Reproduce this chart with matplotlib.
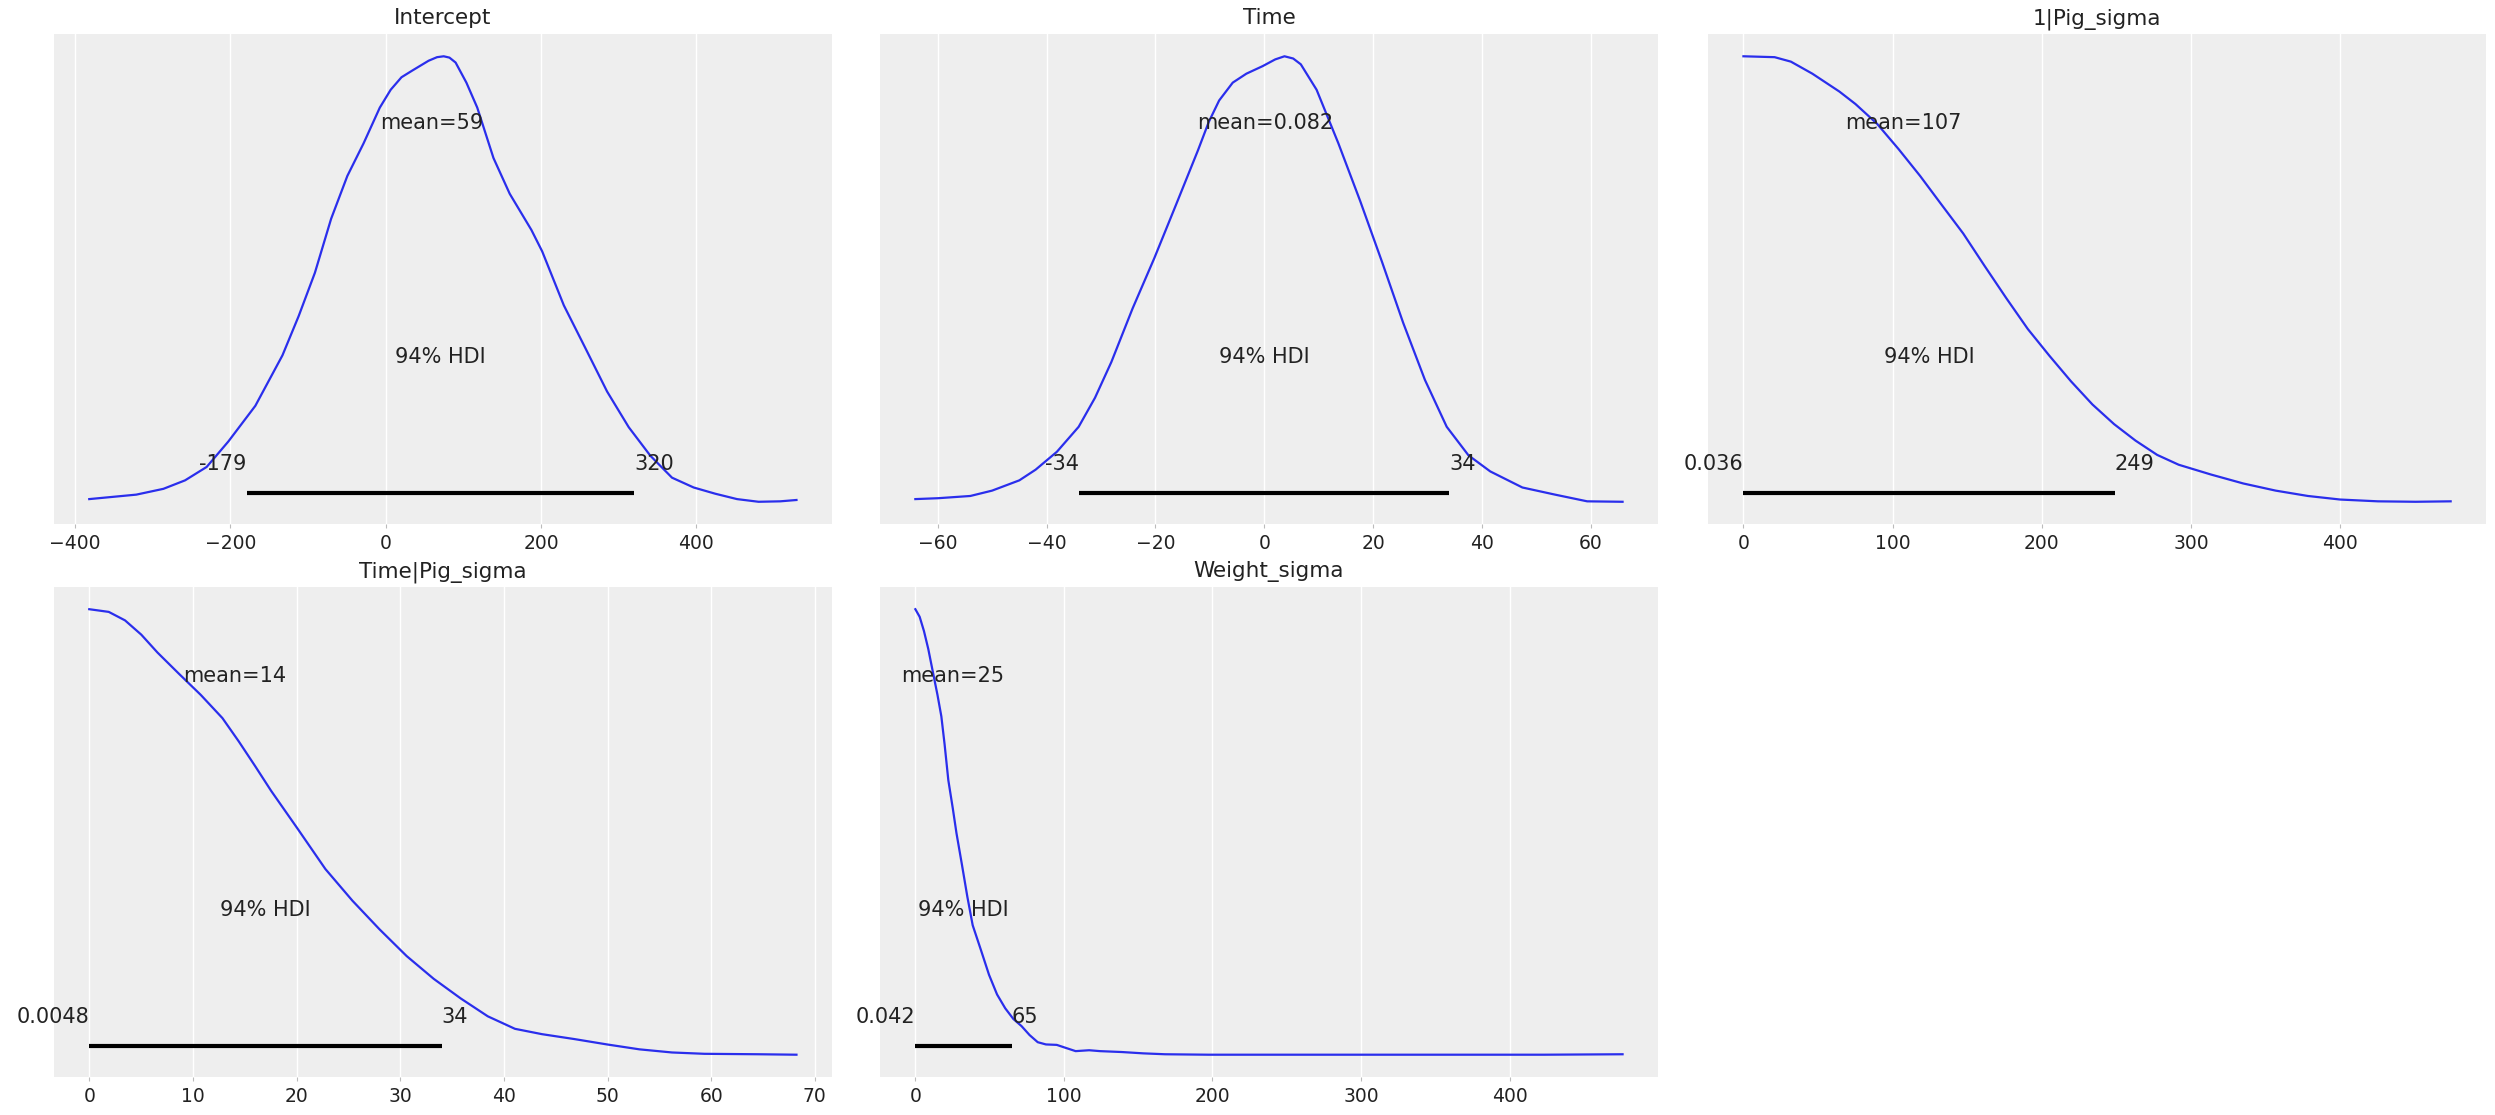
import numpy as np
import matplotlib
matplotlib.use("Agg")
import matplotlib.pyplot as plt

# posterior densities (peak scaled to 1)
intercept_x = [-381.9, -321.3, -286.4, -258.5, -230.7, -202.8, -168.0, -133.1, -112.2, -91.3,
               -70.4, -49.5, -28.6, -7.7, 6.3, 20.2, 34.1, 55.1, 66.0, 74.6, 82.0, 89.9,
               103.8, 117.8, 138.7, 159.6, 187.5, 201.4, 229.3, 257.1, 285.0, 312.9,
               340.8, 368.6, 396.5, 424.4, 452.3, 480.1, 508.0, 528.9]
intercept_y = [0.008, 0.018, 0.031, 0.050, 0.080, 0.137, 0.217, 0.330, 0.418, 0.515,
               0.636, 0.732, 0.805, 0.885, 0.925, 0.953, 0.968, 0.990, 0.998, 1.000, 0.997, 0.986,
               0.941, 0.885, 0.772, 0.692, 0.611, 0.563, 0.442, 0.346, 0.249, 0.169,
               0.105, 0.056, 0.034, 0.020, 0.008, 0.002, 0.003, 0.006]

time_x = [-64.1, -59.9, -54.0, -50.0, -45.0, -42.0, -38.1, -34.1, -31.1, -28.1,
          -24.2, -20.2, -16.2, -12.2, -10.2, -8.3, -5.8, -3.3, -0.3, 2.0, 3.7, 5.3,
          6.7, 9.6, 13.6, 17.6, 21.6, 25.5, 29.5, 33.5, 37.5, 41.5,
          47.4, 53.4, 59.3, 65.8]
time_y = [0.008, 0.010, 0.015, 0.027, 0.050, 0.074, 0.114, 0.170, 0.235, 0.315,
          0.435, 0.548, 0.668, 0.789, 0.853, 0.901, 0.941, 0.961, 0.978, 0.993, 1.000, 0.995,
          0.982, 0.925, 0.805, 0.676, 0.540, 0.403, 0.275, 0.170, 0.106, 0.070,
          0.034, 0.018, 0.003, 0.002]

pig_x = [0.0, 20.9, 31.8, 46.2, 64.3, 75.1, 89.5, 104.0, 118.4, 132.9,
         147.3, 161.7, 176.2, 190.6, 205.1, 219.5, 233.9, 248.4, 262.8, 277.3,
         291.7, 313.4, 335.0, 356.7, 378.3, 400.0, 425.3, 450.5, 474.0]
pig_y = [1.000, 0.998, 0.988, 0.961, 0.921, 0.893, 0.849, 0.792, 0.732, 0.667,
         0.603, 0.530, 0.458, 0.389, 0.329, 0.272, 0.220, 0.176, 0.139, 0.107,
         0.085, 0.063, 0.043, 0.027, 0.015, 0.007, 0.003, 0.002, 0.003]

timepig_x = [0.0, 1.88, 3.45, 5.02, 6.58, 8.67, 10.76, 12.85, 14.42, 15.99,
             17.55, 20.17, 22.78, 25.39, 28.00, 30.62, 33.23, 35.84, 38.45, 41.07,
             43.68, 46.81, 49.95, 53.08, 56.22, 59.35, 64.58, 68.23]
timepig_y = [1.000, 0.994, 0.975, 0.943, 0.903, 0.855, 0.808, 0.756, 0.704, 0.649,
             0.593, 0.506, 0.418, 0.347, 0.283, 0.223, 0.172, 0.128, 0.088, 0.060,
             0.048, 0.037, 0.025, 0.014, 0.007, 0.004, 0.003, 0.002]

weight_x = [0.0, 2.9, 5.8, 8.7, 12.0, 14.9, 17.5, 19.7, 22.2, 25.2,
            27.7, 31.4, 35.0, 38.6, 44.1, 49.6, 55.0, 60.5, 66.0, 71.5,
            76.9, 82.4, 87.9, 95.2, 100.6, 107.9, 117.0, 124.3, 138.9, 153.5,
            168.1, 197.2, 233.7, 306.6, 394.1, 423.3, 476.1]
weight_y = [1.000, 0.983, 0.951, 0.911, 0.856, 0.808, 0.760, 0.697, 0.617, 0.554,
            0.498, 0.427, 0.356, 0.292, 0.237, 0.181, 0.137, 0.106, 0.082, 0.066,
            0.046, 0.030, 0.025, 0.024, 0.018, 0.010, 0.012, 0.010, 0.008, 0.005,
            0.003, 0.002, 0.002, 0.002, 0.002, 0.002, 0.003]

names = ["Intercept", "Time", "1|Pig_sigma", "Time|Pig_sigma", "Weight_sigma"]
curves_x = [intercept_x, time_x, pig_x, timepig_x, weight_x]
curves_y = [intercept_y, time_y, pig_y, timepig_y, weight_y]
means = ["59", "0.082", "107", "14", "25"]
mean_vals = [59, 0.082, 107, 14, 25]
hdi_low = [-179, -34, 0.036, 0.0048, 0.042]
hdi_high = [320, 34, 249, 34, 65]
hdi_low_lbl = ["-179", "-34", "0.036", "0.0048", "0.042"]
hdi_high_lbl = ["320", "34", "249", "34", "65"]

plt.rcParams["font.family"] = "DejaVu Sans"
txt_size = 15
ink = "#222222"
fig = plt.figure(figsize=(24.95, 11.15), dpi=100)

lefts = [0.0216, 0.3527, 0.6846]
bottoms = [0.530, 0.0341]
w, h = 0.3118, 0.4395

for i, name in enumerate(names):
    r, c = divmod(i, 3)
    ax = fig.add_axes([lefts[c], bottoms[r], w, h])
    ax.set_facecolor("#eeeeee")
    for s in ax.spines.values():
        s.set_visible(False)
    ax.grid(True, axis="x", color="white", lw=1)
    ax.set_axisbelow(True)

    x = np.array(curves_x[i])
    y = np.array(curves_y[i])
    ax.plot(x, y, color="#2a2eec", lw=1.6)
    # text heights are relative to a slightly higher max than the drawn peak
    m = y.max() * 1.045

    ax.plot([hdi_low[i], hdi_high[i]], [m * 0.02, m * 0.02], lw=3.0, color="k",
            solid_capstyle="butt")
    ax.text(hdi_low[i], m * 0.07, hdi_low_lbl[i], size=txt_size, ha="right", color=ink)
    ax.text(hdi_high[i], m * 0.07, hdi_high_lbl[i], size=txt_size, ha="left", color=ink)
    ax.text((hdi_low[i] + hdi_high[i]) / 2, m * 0.3, "94% HDI", size=txt_size, ha="center",
            color=ink)
    ax.text(mean_vals[i], m * 0.8, "mean=" + means[i], size=txt_size, ha="center", color=ink)

    ax.set_yticks([])
    ax.tick_params(axis="x", labelsize=13.5, length=3, width=0.8, color="#bbbbbb",
                   pad=4, labelcolor=ink)
    ax.set_title(name, size=15.5, color=ink, pad=7)

fig.savefig("out.png", dpi=100)
